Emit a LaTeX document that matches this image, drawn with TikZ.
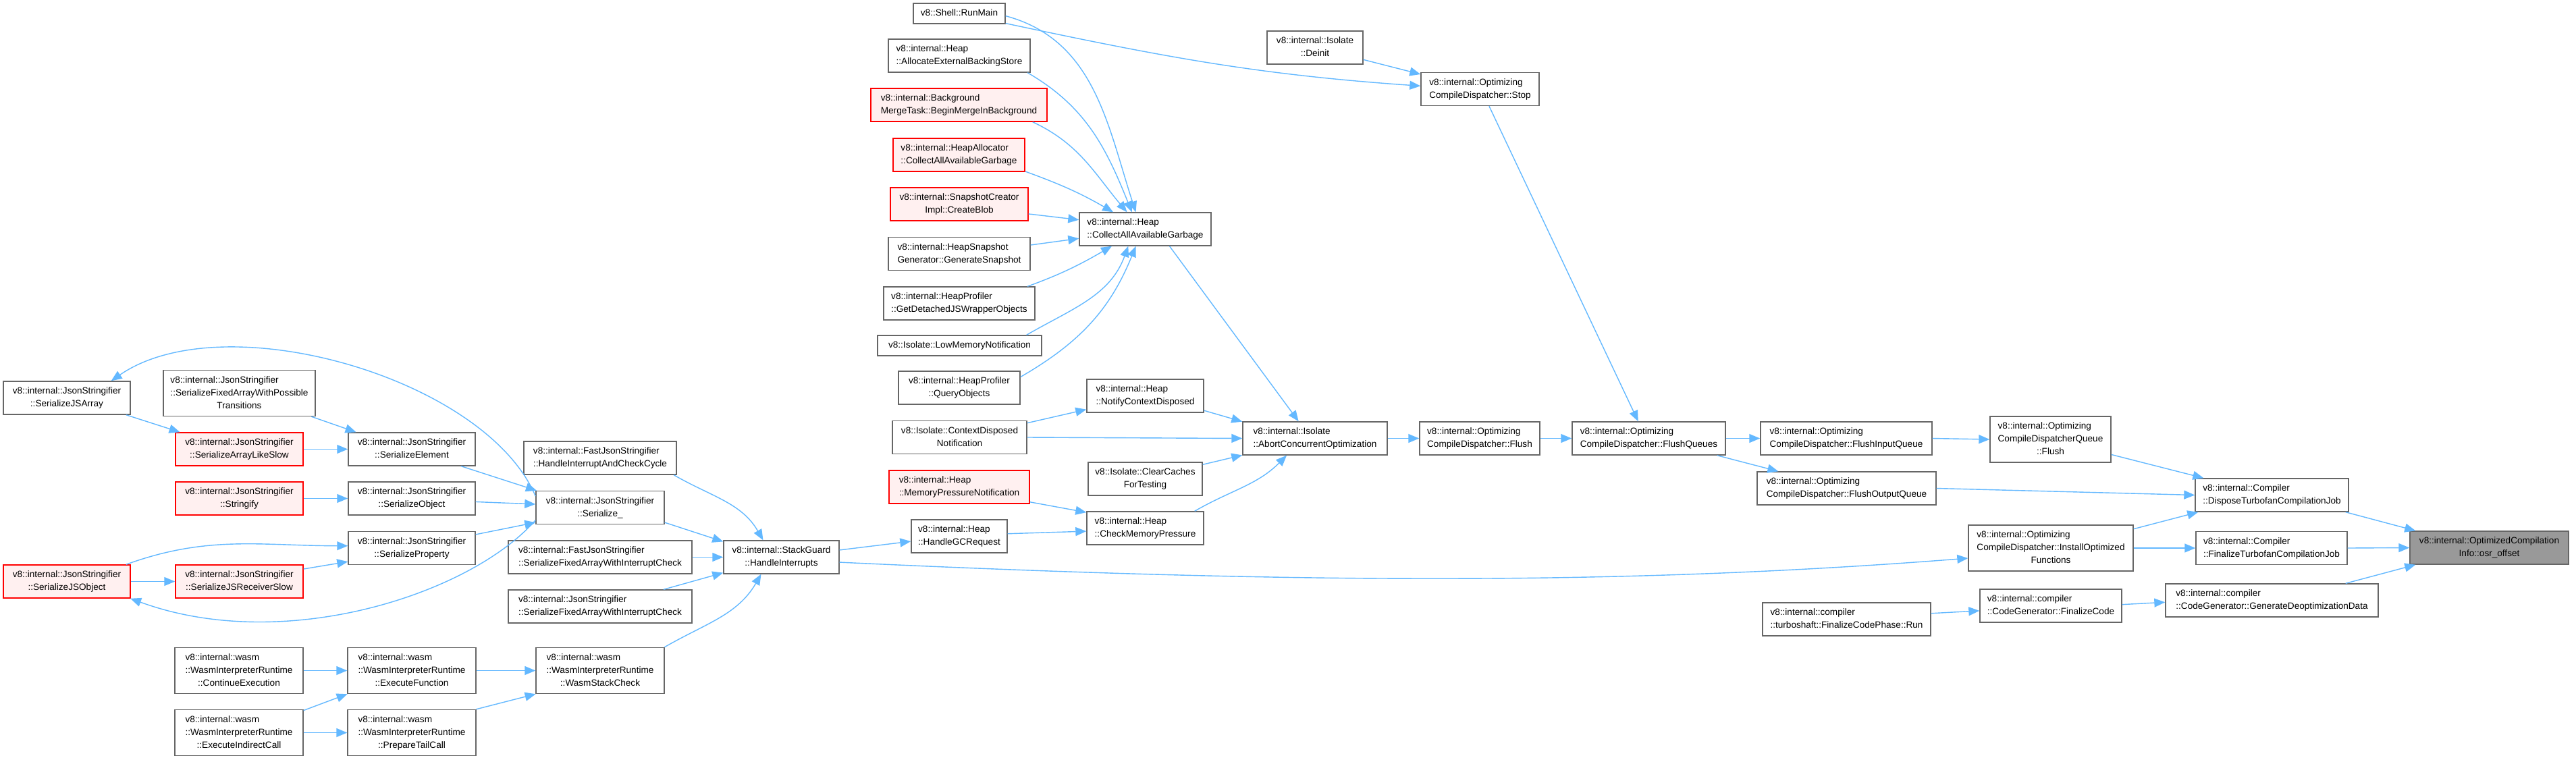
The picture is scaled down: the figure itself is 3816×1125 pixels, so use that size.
\documentclass[tikz,border=0pt]{standalone}
\usepackage{fontspec}
\setmainfont{Liberation Sans}
\definecolor{edgeblue}{RGB}{99,184,255}
\definecolor{boxgray}{RGB}{102,102,102}
\definecolor{redfill}{RGB}{255,240,240}
\definecolor{focusgray}{RGB}{153,153,153}
\usetikzlibrary{arrows.meta, positioning, calc}

% label lines: left aligned, last one centred
\newcommand{\fnA}[1]{\begin{tabular}{@{}l@{}}#1\end{tabular}}
\newcommand{\fnB}[2]{\begin{tabular}{@{}l@{}}#1\\\multicolumn{1}{@{}c@{}}{#2}\end{tabular}}
\newcommand{\fnC}[3]{\begin{tabular}{@{}l@{}}#1\\#2\\\multicolumn{1}{@{}c@{}}{#3}\end{tabular}}

\begin{document}
\begin{tikzpicture}[x=1pt, y=-1pt,
  fn/.style={draw=boxgray, fill=white, line width=1.4pt, inner xsep=4pt, inner ysep=5.5pt,
    font=\fontsize{13.6}{19}\selectfont},
  fnred/.style={fn, draw=red, fill=redfill},
  fntarget/.style={fn, fill=focusgray},
  call/.style={draw=edgeblue, line width=1.4pt, -{Triangle[length=16pt, width=13pt]}}]
  \useasboundingbox (0,0) rectangle (3816,1125);

  % JsonStringifier
  \node[fn, minimum width=188] (jsarray) at (99,589.5) {\fnB{v8::internal::JsonStringifier}{::SerializeJSArray}};
  \node[fn, minimum width=225] (fixpos) at (354.5,582.5) {\fnC{v8::internal::JsonStringifier}{::SerializeFixedArrayWithPossible}{Transitions}};
  \node[fnred, minimum width=189] (arrslow) at (354.5,665.5) {\fnB{v8::internal::JsonStringifier}{::SerializeArrayLikeSlow}};
  \node[fnred, minimum width=189] (stringify) at (354.5,738.5) {\fnB{v8::internal::JsonStringifier}{::Stringify}};
  \node[fnred, minimum width=188] (jsobject) at (99,861.5) {\fnB{v8::internal::JsonStringifier}{::SerializeJSObject}};
  \node[fnred, minimum width=189] (recvslow) at (354.5,861.5) {\fnB{v8::internal::JsonStringifier}{::SerializeJSReceiverSlow}};
  \node[fn, minimum width=188] (serelem) at (610,665.5) {\fnB{v8::internal::JsonStringifier}{::SerializeElement}};
  \node[fn, minimum width=188] (serobj) at (610,738.5) {\fnB{v8::internal::JsonStringifier}{::SerializeObject}};
  \node[fn, minimum width=188] (serprop) at (610,812) {\fnB{v8::internal::JsonStringifier}{::SerializeProperty}};
  \node[fn, minimum width=226] (intcycle) at (889,678.5) {\fnB{v8::internal::FastJsonStringifier}{::HandleInterruptAndCheckCycle}};
  \node[fn, minimum width=190] (serialize) at (889,752) {\fnB{v8::internal::JsonStringifier}{::Serialize\_}};
  \node[fn, minimum width=272] (fastfix) at (889,825.5) {\fnB{v8::internal::FastJsonStringifier}{::SerializeFixedArrayWithInterruptCheck}};
  \node[fn, minimum width=272] (jsonfix) at (889,898.5) {\fnB{v8::internal::JsonStringifier}{::SerializeFixedArrayWithInterruptCheck}};

  % wasm
  \node[fn, minimum width=190] (contexec) at (354,993.5) {\fnC{v8::internal::wasm}{::WasmInterpreterRuntime}{::ContinueExecution}};
  \node[fn, minimum width=190] (execind) at (354,1085.5) {\fnC{v8::internal::wasm}{::WasmInterpreterRuntime}{::ExecuteIndirectCall}};
  \node[fn, minimum width=190] (execfn) at (610,993.5) {\fnC{v8::internal::wasm}{::WasmInterpreterRuntime}{::ExecuteFunction}};
  \node[fn, minimum width=190] (tailcall) at (610,1085.5) {\fnC{v8::internal::wasm}{::WasmInterpreterRuntime}{::PrepareTailCall}};
  \node[fn, minimum width=190] (stackcheck) at (889,993.5) {\fnC{v8::internal::wasm}{::WasmInterpreterRuntime}{::WasmStackCheck}};
  \node[fn, minimum width=171] (handleint) at (1157.5,825.5) {\fnB{v8::internal::StackGuard}{::HandleInterrupts}};

  % Heap callers
  \node[fn, minimum width=136] (runmain) at (1421,20) {\fnA{v8::Shell::RunMain}};
  \node[fn, minimum width=210] (allocext) at (1421,82.5) {\fnB{v8::internal::Heap}{::AllocateExternalBackingStore}};
  \node[fnred, minimum width=261] (bgmerge) at (1420.5,155.5) {\fnB{v8::internal::Background}{MergeTask::BeginMergeInBackground}};
  \node[fnred, minimum width=195] (heapalloc) at (1420.5,229.5) {\fnB{v8::internal::HeapAllocator}{::CollectAllAvailableGarbage}};
  \node[fnred, minimum width=204] (createblob) at (1421,302.5) {\fnB{v8::internal::SnapshotCreator}{Impl::CreateBlob}};
  \node[fn, minimum width=210] (gensnap) at (1421,376) {\fnB{v8::internal::HeapSnapshot}{Generator::GenerateSnapshot}};
  \node[fn, minimum width=224] (detached) at (1421,449.5) {\fnB{v8::internal::HeapProfiler}{::GetDetachedJSWrapperObjects}};
  \node[fn, minimum width=243] (lowmem) at (1421.5,512) {\fnA{v8::Isolate::LowMemoryNotification}};
  \node[fn, minimum width=180] (queryobj) at (1421,574.5) {\fnB{v8::internal::HeapProfiler}{::QueryObjects}};
  \node[fn, minimum width=199] (ctxdisp) at (1421.5,648) {\fnB{v8::Isolate::ContextDisposed}{Notification}};
  \node[fnred, minimum width=208] (mempress) at (1421,721.5) {\fnB{v8::internal::Heap}{::MemoryPressureNotification}};
  \node[fn, minimum width=142] (gcreq) at (1421,794.5) {\fnB{v8::internal::Heap}{::HandleGCRequest}};
  \node[fn, minimum width=195] (collect) at (1696.5,339.5) {\fnB{v8::internal::Heap}{::CollectAllAvailableGarbage}};
  \node[fn, minimum width=173] (notifyctx) at (1696.5,586.5) {\fnB{v8::internal::Heap}{::NotifyContextDisposed}};
  \node[fn, minimum width=169] (clearcache) at (1696.5,709.5) {\fnB{v8::Isolate::ClearCaches}{ForTesting}};
  \node[fn, minimum width=173] (checkmem) at (1696.5,782.5) {\fnB{v8::internal::Heap}{::CheckMemoryPressure}};
  \node[fn, minimum width=142] (deinit) at (1948,70.5) {\fnB{v8::internal::Isolate}{::Deinit}};
  \node[fn, minimum width=214] (abortopt) at (1948,649.5) {\fnB{v8::internal::Isolate}{::AbortConcurrentOptimization}};

  % Optimizing dispatcher
  \node[fn, minimum width=175] (stop) at (2192.5,132) {\fnB{v8::internal::Optimizing}{CompileDispatcher::Stop}};
  \node[fn, minimum width=178] (flush) at (2192,649.5) {\fnB{v8::internal::Optimizing}{CompileDispatcher::Flush}};
  \node[fn, minimum width=227] (flushq) at (2442.5,649.5) {\fnB{v8::internal::Optimizing}{CompileDispatcher::FlushQueues}};
  \node[fn, minimum width=254] (flushin) at (2735,649.5) {\fnB{v8::internal::Optimizing}{CompileDispatcher::FlushInputQueue}};
  \node[fn, minimum width=265] (flushout) at (2735.5,723.5) {\fnB{v8::internal::Optimizing}{CompileDispatcher::FlushOutputQueue}};
  \node[fn, minimum width=249] (fcprun) at (2735.5,917.5) {\fnB{v8::internal::compiler}{::turboshaft::FinalizeCodePhase::Run}};
  \node[fn, minimum width=179] (queueflush) at (3037.5,651) {\fnC{v8::internal::Optimizing}{CompileDispatcherQueue}{::Flush}};
  \node[fn, minimum width=244] (install) at (3038,812) {\fnC{v8::internal::Optimizing}{CompileDispatcher::InstallOptimized}{Functions}};
  \node[fn, minimum width=210] (finalcode) at (3038,897.5) {\fnB{v8::internal::compiler}{::CodeGenerator::FinalizeCode}};
  \node[fn, minimum width=227] (dispose) at (3365.5,733.5) {\fnB{v8::internal::Compiler}{::DisposeTurbofanCompilationJob}};
  \node[fn, minimum width=224] (finalize) at (3365,812) {\fnB{v8::internal::Compiler}{::FinalizeTurbofanCompilationJob}};
  \node[fn, minimum width=315] (gendeopt) at (3365.5,889.5) {\fnB{v8::internal::compiler}{::CodeGenerator::GenerateDeoptimizationData}};
  \node[fntarget, minimum width=235] (osr) at (3687.5,811.5) {\fnB{v8::internal::OptimizedCompilation}{Info::osr\_offset}};

  % Straight calls
  \foreach \a/\b in {arrslow/serelem, stringify/serobj, jsobject/recvslow, contexec/execfn,
      execind/tailcall, execfn/stackcheck, fastfix/handleint, ctxdisp/abortopt, abortopt/flush,
      flush/flushq, flushq/flushin, flushin/queueflush, flushout/dispose, install/finalize, finalize/osr}
    \draw[call] (\a.east) -- (\b.west);

  % JsonStringifier calls
  \draw[call] (jsarray.-16) -- (arrslow.164);
  \draw[call] (fixpos.-18) -- (serelem.163);
  \draw[call] (serelem.-19) -- (serialize.165);
  \draw[call] (serobj.-3) -- (serialize.177);
  \draw[call] (serprop.12) -- (serialize.193);
  \draw[call] (recvslow.11) -- (serprop.192);
  \draw[call] (jsobject.16) to[out=20,in=180] (serprop.178);
  \draw[call] (serialize.170) .. controls +(-74,-175) and +(167,-115) .. (jsarray.21);
  \draw[call] (serialize.191) .. controls +(-94,108) and +(230,84) .. (jsobject.-15);

  % wasm calls
  \draw[call] (execind.19) -- (execfn.200);
  \draw[call] (tailcall.20) -- (stackcheck.200);

  % StackGuard
  \draw[call] (intcycle.-13) to[out=-30,in=120] (handleint.137);
  \draw[call] (serialize.-13) -- (handleint.165);
  \draw[call] (jsonfix.15) -- (handleint.195);
  \draw[call] (stackcheck.20) to[out=30,in=-120] (handleint.220);
  \draw[call] (handleint.7) -- (gcreq.186);
  \draw[call] (handleint.-5) .. controls +(700,33) and +(-500,39) .. (install.187);

  % Heap
  \draw[call] (gcreq.3) -- (checkmem.183);
  \draw[call] (mempress.-12) -- (checkmem.165);
  \draw[call] (checkmem.19) to[out=30,in=-135] (abortopt.211);
  \draw[call] (clearcache.14) -- (abortopt.193);
  \draw[call] (ctxdisp.12) -- (notifyctx.193);
  \draw[call] (notifyctx.-14) -- (abortopt.167);
  \draw[call] (collect.-35) -- (abortopt.134);

  % CollectAllAvailableGarbage callers
  \draw[call] (runmain.-3) to[out=-15,in=108] (collect.119);
  \draw[call] (allocext.-14) to[out=-30,in=112] (collect.128);
  \draw[call] (bgmerge.-13) to[out=-25,in=130] (collect.137);
  \draw[call] (heapalloc.-14) to[out=-20,in=150] (collect.152);
  \draw[call] (createblob.-8) -- (collect.172);
  \draw[call] (gensnap.7) -- (collect.188);
  \draw[call] (detached.14) to[out=20,in=-150] (collect.207);
  \draw[call] (lowmem.9) to[out=30,in=-110] (collect.225);
  \draw[call] (queryobj.10) to[out=30,in=-112] (collect.241);

  % Dispatcher and compiler
  \draw[call] (runmain.-12) to[out=-12,in=176] (stop.177);
  \draw[call] (deinit.-14) -- (stop.166);
  \draw[call] (stop.-62) -- (flushq.122);
  \draw[call] (flushq.-14) -- (flushout.166);
  \draw[call] (queueflush.-14) -- (dispose.166);
  \draw[call] (install.13) -- (dispose.193);
  \draw[call] (fcprun.4) -- (finalcode.184);
  \draw[call] (finalcode.1) -- (gendeopt.181);
  \draw[call] (dispose.-13) -- (osr.167);
  \draw[call] (gendeopt.13) -- (osr.193);
\end{tikzpicture}
\end{document}
